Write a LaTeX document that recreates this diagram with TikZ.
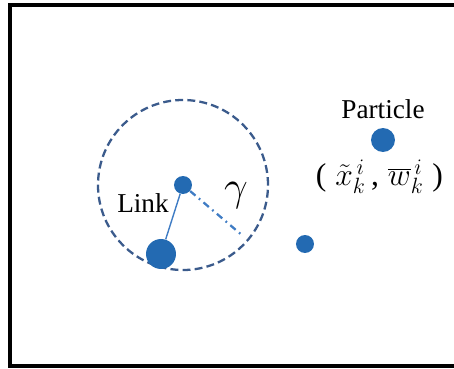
\documentclass[tikz,border=0pt]{standalone}
\usepackage{fix-cm}
\usepackage{fontspec}
\setmainfont{Liberation Serif}
\definecolor{dotblue}{HTML}{236AB2}
\definecolor{ringblue}{HTML}{3B5B8C}
\definecolor{linkblue}{HTML}{3F7CC4}
\usetikzlibrary{positioning}

\begin{document}
\begin{tikzpicture}[
  dot/.style={circle, fill=dotblue, draw=none, inner sep=0pt, minimum size=#1},
  dot/.default=0.36cm,
  lbl/.style={font=\fontsize{15.5}{18}\selectfont, inner sep=1pt},
  big/.style={font=\fontsize{18}{21}\selectfont, inner sep=1pt},
]
\useasboundingbox (0,0) rectangle (9.08,7.38);
\clip (0,0) rectangle (9.08,7.38);
% frame
\draw[line width=2.1pt] (9.3,7.28) -- (0.2,7.28) -- (0.2,0.06) -- (9.3,0.06);

% neighbourhood
\node[dot] (hub) at (3.66,3.68) {};
\draw[ringblue, line width=1.3pt, dash pattern=on 4.5pt off 2.4pt] (hub.center) circle (1.70);
\node[dot=0.60cm] (near) at (3.22,2.30) {};
\node[dot] (far) at (6.10,2.50) {};
\coordinate (rim) at (4.86,2.66);

\draw[linkblue, line width=0.8pt] (hub) -- (near);
\draw[linkblue, line width=1.3pt, dash pattern=on 4pt off 2.5pt on 1pt off 2.5pt] (hub) -- (rim);

\node[lbl] (link) at (2.86,3.32) {Link};
\node[font=\fontsize{24}{26}\selectfont, inner sep=1pt] (gamma) at (4.72,3.46) {$\gamma$};

% particle
\node[dot=0.48cm] (part) at (7.66,4.58) {};
\node[lbl, above=4pt of part] (ptxt) {Particle};
\node[big, below=3pt of part, xshift=-2pt] (state) {(\;$\tilde{x}_k^{\,i}$\,,\;$\overline{w}_k^{\,i}$\;)};
\end{tikzpicture}
\end{document}
